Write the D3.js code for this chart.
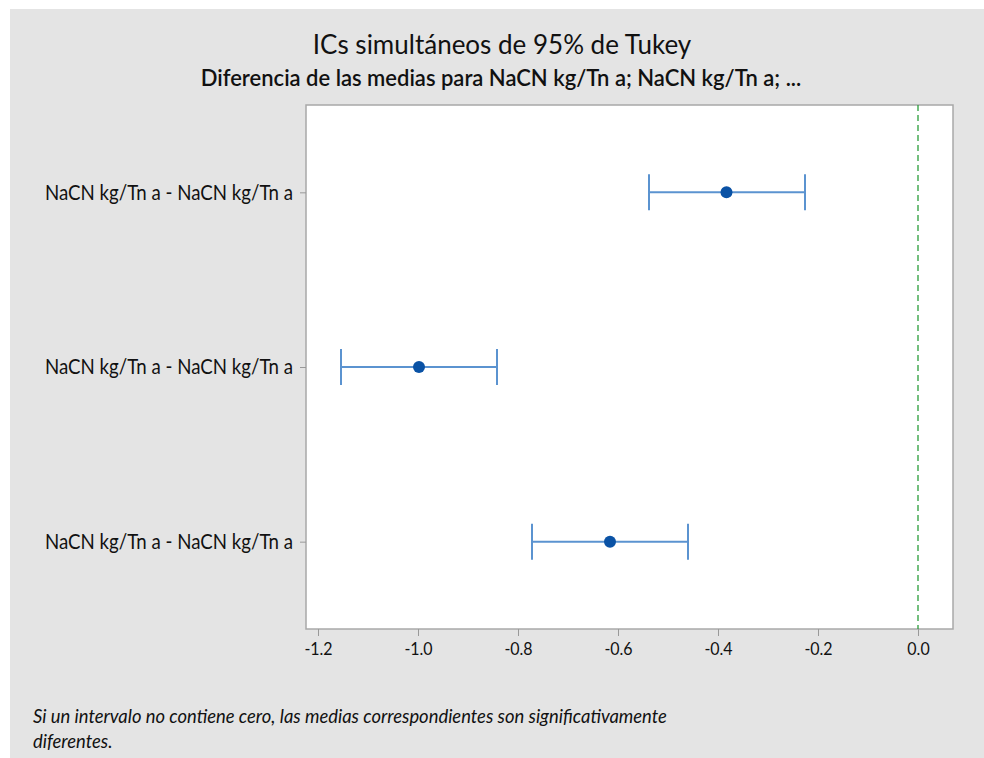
<!DOCTYPE html>
<html>
<head>
<meta charset="utf-8">
<script src="https://cdn.jsdelivr.net/npm/d3@7"></script>
<style>
  body { margin: 0; background: #fff; }
  text { font-family: Lato, "Noto Sans", sans-serif; fill: #111; }
</style>
</head>
<body>
<svg id="chart" width="984" height="758"></svg>
<script>
// comparisons (all share the same label in the source)
var comparisons = ["NaCN kg/Tn a - NaCN kg/Tn a", "NaCN kg/Tn a - NaCN kg/Tn a ", "NaCN kg/Tn a - NaCN kg/Tn a  "];
var diffMeans = [-0.383, -0.998, -0.616];
var lowerCI = [-0.538, -1.154, -0.772];
var upperCI = [-0.226, -0.842, -0.460];
var xTicks = [-1.2, -1.0, -0.8, -0.6, -0.4, -0.2, 0.0];

var svg = d3.select("#chart");

// grey panel
svg.append("rect")
  .attr("x", 10).attr("y", 9)
  .attr("width", 974).attr("height", 749)
  .attr("fill", "#e4e4e4");

var margin = {top: 105, right: 31, bottom: 129, left: 306};
var width = 984 - margin.left - margin.right;
var height = 758 - margin.top - margin.bottom;

var g = svg.append("g")
  .attr("transform", "translate(" + margin.left + "," + margin.top + ")");

g.append("rect")
  .attr("width", width).attr("height", height)
  .attr("fill", "#fff")
  .attr("stroke", "#a8a8a8")
  .attr("stroke-width", 1.5);

var xScale = d3.scaleLinear().domain([-1.224, 0.07]).range([0, width]);
var yScale = d3.scalePoint().domain(comparisons).range([0, height]).padding(0.5);

var data = comparisons.map(function(c, i) {
  return {name: c, mean: diffMeans[i], lo: lowerCI[i], hi: upperCI[i]};
});

// reference line at zero
g.append("line")
  .attr("x1", xScale(0)).attr("x2", xScale(0))
  .attr("y1", 0).attr("y2", height)
  .attr("stroke", "#2a9d3a")
  .attr("stroke-width", 1.3)
  .attr("stroke-dasharray", "6,4");

// x axis
var fmt = d3.format(".1f");
var xAxis = d3.axisBottom(xScale)
  .tickValues(xTicks)
  .tickSize(7)
  .tickPadding(5)
  .tickFormat(function(d) { return fmt(d).replace("\u2212", "-"); });
var xAxisGroup = g.append("g")
  .attr("transform", "translate(0," + height + ")")
  .call(xAxis);
xAxisGroup.select(".domain").remove();
xAxisGroup.selectAll("line").attr("stroke", "#999");
xAxisGroup.selectAll("text")
  .attr("font-family", "Lato, 'Noto Sans', sans-serif")
  .attr("font-size", 16)
  .attr("fill", "#111")
  .attr("transform", "scale(1,1.1)");

// y axis
var yAxis = d3.axisLeft(yScale)
  .tickSize(6)
  .tickPadding(7);
var yAxisGroup = g.append("g").call(yAxis);
yAxisGroup.select(".domain").remove();
yAxisGroup.selectAll("line").attr("stroke", "#999");
yAxisGroup.selectAll("text")
  .attr("font-family", "Lato, 'Noto Sans', sans-serif")
  .attr("font-size", 18.7)
  .attr("fill", "#111")
  .attr("transform", "scale(1,1.12)");

// intervals
var rows = g.selectAll(".ci")
  .data(data)
  .enter().append("g")
  .attr("class", "ci")
  .attr("transform", function(d) { return "translate(0," + yScale(d.name) + ")"; });

rows.append("line")
  .attr("x1", function(d) { return xScale(d.lo); })
  .attr("x2", function(d) { return xScale(d.hi); })
  .attr("stroke", "#5b93d0").attr("stroke-width", 2);

rows.append("line")
  .attr("x1", function(d) { return xScale(d.lo); })
  .attr("x2", function(d) { return xScale(d.lo); })
  .attr("y1", -18).attr("y2", 18)
  .attr("stroke", "#5b93d0").attr("stroke-width", 2);

rows.append("line")
  .attr("x1", function(d) { return xScale(d.hi); })
  .attr("x2", function(d) { return xScale(d.hi); })
  .attr("y1", -18).attr("y2", 18)
  .attr("stroke", "#5b93d0").attr("stroke-width", 2);

rows.append("circle")
  .attr("cx", function(d) { return xScale(d.mean); })
  .attr("r", 6)
  .attr("fill", "#0a52a5");

// titles
svg.append("text")
  .attr("x", 502).attr("y", 54)
  .attr("text-anchor", "middle")
  .attr("font-size", 26)
  .text("ICs simultáneos de 95% de Tukey");

svg.append("g")
  .attr("transform", "translate(501,86) scale(1,1.08)")
  .append("text")
  .attr("text-anchor", "middle")
  .attr("font-size", 22)
  .attr("font-weight", 600)
  .text("Diferencia de las medias para NaCN kg/Tn a; NaCN kg/Tn a; ...");

// footnote
var foot = svg.append("text")
  .attr("x", 33).attr("y", 723)
  .attr("font-size", 18.4)
  .attr("font-style", "italic");
foot.append("tspan").attr("x", 33).text("Si un intervalo no contiene cero, las medias correspondientes son significativamente");
foot.append("tspan").attr("x", 33).attr("dy", 25).text("diferentes.");
</script>
</body>
</html>
